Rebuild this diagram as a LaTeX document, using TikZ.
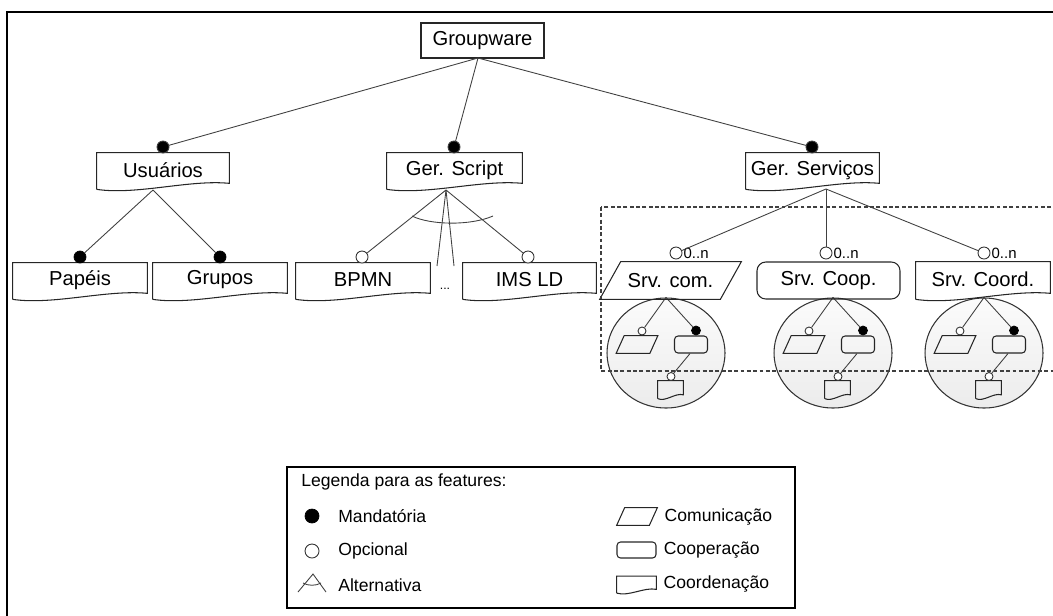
\documentclass[tikz,border=0pt]{standalone}
\usepackage{fontspec}
\setmainfont{Liberation Sans}
\usepackage{tikz}
\usetikzlibrary{shapes.geometric,positioning}
\usetikzlibrary{calc}
\def\px{0.02cm}
\tikzset{
	feat/.style={minimum width=133*\px,minimum height=34*\px,inner sep=0pt,font=\fontsize{11.5}{13}\selectfont},
	contorno/.style={draw=black!85,line width=0.6pt},
	mand/.style={circle,draw,fill=black,inner sep=0pt,minimum size=12*\px},
	opc/.style={circle,draw=black!80,fill=white,inner sep=0pt,minimum size=12*\px,line width=0.5pt},
	mandp/.style={mand,minimum size=9*\px},
	opcp/.style={opc,minimum size=8*\px},
	liga/.style={draw=black!75,line width=0.5pt},
	bolha/.style={ellipse,draw=black!80,line width=0.6pt,minimum width=118*\px,minimum height=110*\px,top color=gray!3,bottom color=gray!15},
	legtxt/.style={font=\fontsize{10}{12}\selectfont,inner sep=0pt,anchor=west}
}
% contorno "documento": base ondulada (#1 nome, #2 amplitude)
\newcommand{\docforma}[2]{%
	\draw[contorno] ($(#1.south west)+(0,0.5*#2)$) -- (#1.north west) -- (#1.north east) -- ($(#1.south east)+(0,-#2)$)
	.. controls ($(#1.south west)!0.7!(#1.south east)+(0,-2*#2)$) and ($(#1.south west)!0.3!(#1.south east)+(0,2*#2)$) .. ($(#1.south west)+(0,0.5*#2)$);}
% paralelogramo (#1 nome, #2 inclinacao)
\newcommand{\paralforma}[2]{%
	\draw[contorno] (#1.south west) -- ($(#1.north west)+(#2,0)$) -- (#1.north east) -- ($(#1.south east)+(-#2,0)$) -- cycle;}

\begin{document}
\begin{tikzpicture}[x=0.02cm,y=-0.02cm]
	\clip (0,0) rectangle (1053,615);
	\draw[line width=1.1pt] (7,12) rectangle (1080,640);
	
	%Raiz
	\node[feat,contorno,minimum width=123*\px,minimum height=35*\px] (gw) at (482.5,40.5) {Groupware};
	\coordinate (gwb) at (478,58);
	
	%Nivel 1
	\node[feat,minimum width=132*\px] (us) at (163,170) {Usuários};
	\node[feat,minimum width=135*\px] (gs) at (454.5,170) {Ger. Script};
	\node[feat] (sv) at (812.5,170) {Ger. Serviços};
	\docforma{us}{4}
	\docforma{gs}{4}
	\docforma{sv}{4}
	
	\draw[liga] (gwb) -- (163,147) node[mand] (dU) {};
	\draw[liga] (gwb) -- (454,147) node[mand] (dS) {};
	\draw[liga] (gwb) -- (812,147) node[mand] (dV) {};
	
	%Nivel 2
	\node[feat,minimum width=134*\px] (pa) at (80,280) {Papéis};
	\node[feat,minimum width=134*\px] (gr) at (220,280) {Grupos};
	\node[feat,minimum width=134*\px] (bp) at (363,280) {BPMN};
	\node[feat] (ims) at (529.5,280) {IMS LD};
	\docforma{pa}{4}
	\docforma{gr}{4}
	\docforma{bp}{4}
	\docforma{ims}{4}
	\node[font=\fontsize{7}{8}\selectfont,inner sep=0pt] (ret) at (445,289) {...};
	
	\coordinate (usb) at (153,190);
	\coordinate (gsb) at (446,190);
	\coordinate (svb) at (826,189);
	\node[mand] (dPa) at (80,257) {};
	\node[mand] (dGr) at (220,257) {};
	\node[opc] (oBp) at (362,257) {};
	\node[opc] (oIms) at (528,257) {};
	\draw[liga] (usb) -- (dPa);
	\draw[liga] (usb) -- (dGr);
	\draw[liga] (gsb) -- (oBp);
	\draw[liga] (gsb) -- (oIms);
	\coordinate (r1) at (437,266);
	\coordinate (r2) at (454,266);
	\draw[liga] (gsb) -- (r1);
	\draw[liga] (gsb) -- (r2);
	%Alternativa
	\coordinate (a1) at (412,216);
	\coordinate (a2) at (493,216);
	\draw[liga] (a1) .. controls (430,225) and (470,226) .. (a2);
	
	%Servicos: bolhas
	\foreach \cx/\n in {666/1,833/2,984/3}{
		\node[bolha] (b\n) at (\cx,353) {};
		\node[minimum width=41*\px,minimum height=17*\px,inner sep=0pt] (pp\n) at (\cx-29,344.5) {};
		\paralforma{pp\n}{8}
		\node[contorno,rounded corners=2pt,minimum width=33*\px,minimum height=17*\px,inner sep=0pt] (pr\n) at (\cx+25,344.5) {};
		\node[minimum width=25*\px,minimum height=16*\px,inner sep=0pt] (pd\n) at (\cx+4.5,389) {};
		\docforma{pd\n}{2.5}
		\node[opcp] (po\n) at (\cx-24,331) {};
		\node[mandp] (pm\n) at (\cx+30,330.5) {};
		\node[opcp] (pq\n) at (\cx+5,376.5) {};
		\draw[liga] (b\n.north) -- (po\n);
		\draw[liga] (b\n.north) -- (pm\n);
		\draw[liga] ($(pr\n.south)+(-1,0)$) -- (pq\n);
	}
	
	\node[feat,minimum width=141*\px,minimum height=37*\px] (com) at (670.5,280.5) {Srv. com.};
	\paralforma{com}{21}
	\node[feat,contorno,rounded corners=5pt,minimum width=143*\px,minimum height=37*\px] (coop) at (828.5,280.5) {Srv. Coop.};
	\node[feat,minimum width=134*\px,minimum height=35*\px] (coord) at (983,279.5) {Srv. Coord.};
	\docforma{coord}{4}
	
	\node[opc,label={[font=\fontsize{8.5}{10}\selectfont,inner sep=0.5pt]0:0..n}] (oC) at (676,253) {};
	\node[opc,label={[font=\fontsize{8.5}{10}\selectfont,inner sep=0.5pt]0:0..n}] (oP) at (826,253) {};
	\node[opc,label={[font=\fontsize{8.5}{10}\selectfont,inner sep=0.5pt]0:0..n}] (oD) at (984,253) {};
	\draw[liga] (svb) -- (oC);
	\draw[liga] (svb) -- (oP);
	\draw[liga] (svb) -- (oD);
	
	\draw[dashed,dash pattern=on 2.2pt off 1.4pt,black!75,line width=0.6pt] (601,207) rectangle (1070,371);
	
	%Legenda
	\node[draw,line width=0.6pt,minimum width=508*\px,minimum height=141*\px] (leg) at (541,537.5) {};
	\node[legtxt] (tit) at (301,482) {Legenda para as features:};
	\node[mand,minimum size=14*\px] (lm) at (312,516) {};
	\node[opc,minimum size=14*\px] (lo) at (312,551) {};
	\coordinate (la) at (313,574);
	\draw[liga] (298,592) -- (la) -- (326,592);
	\draw[liga] (303,583) .. controls (308,586) and (316,586) .. (321,583);
	\node[legtxt] at (338,516) {Mandatória};
	\node[legtxt] at (338,551) {Opcional};
	\node[legtxt] at (338,585) {Alternativa};
	
	\node[minimum width=40*\px,minimum height=17*\px,inner sep=0pt] (lcom) at (637,516.5) {};
	\paralforma{lcom}{8}
	\node[contorno,rounded corners=2pt,minimum width=39*\px,minimum height=16*\px,inner sep=0pt] (lcoop) at (636.5,550) {};
	\node[minimum width=39*\px,minimum height=15*\px,inner sep=0pt] (lcoord) at (636.5,584) {};
	\docforma{lcoord}{2.5}
	\node[legtxt,right=7*\px of lcom] {Comunicação};
	\node[legtxt,right=7*\px of lcoop] {Cooperação};
	\node[legtxt,right=7*\px of lcoord] {Coordenação};
\end{tikzpicture}
\end{document}
